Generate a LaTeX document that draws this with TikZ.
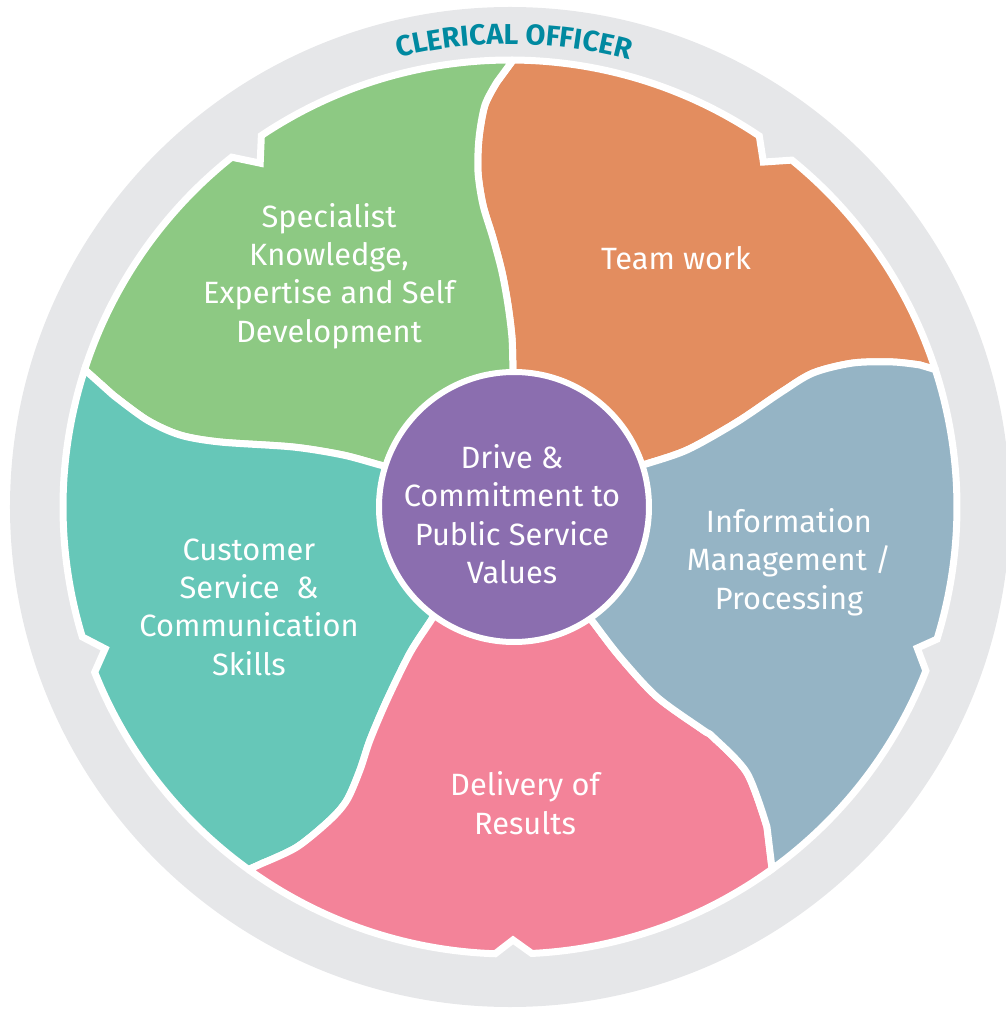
\documentclass[tikz,border=0pt]{standalone}
\usepackage{fontspec}
\setmainfont{Fira Sans}
\usetikzlibrary{decorations.text}

\definecolor{ringgrey}{RGB}{230,231,233}
\definecolor{titleteal}{RGB}{0,137,160}
\definecolor{knowgreen}{RGB}{141,201,131}
\definecolor{teamorange}{RGB}{227,141,95}
\definecolor{infoblue}{RGB}{149,180,197}
\definecolor{resultpink}{RGB}{243,131,153}
\definecolor{custteal}{RGB}{102,199,184}
\definecolor{drivepurple}{RGB}{139,110,175}

\begin{document}
\begin{tikzpicture}[x = 0.5pt, y = 0.5pt,
    piece/.style = {draw = white, line width = 3.5pt, miter limit = 2},
    piecetext/.style = {text = white, align = center, font = \fontsize{15.4}{19.2}\selectfont}]
  \useasboundingbox (-510, -505) rectangle (496, 507);
  % grey ring and its title
  \fill [ringgrey] (0, 0) circle [radius = 500];
  \path [decorate, decoration = {text along path, text align = center,
      text = {|\fontsize{14.4}{14.4}\selectfont\bfseries\color{titleteal}|CLERICAL OFFICER}}]
    (129.5:463) arc [start angle = 129.5, end angle = 49.5, radius = 463];
  % team work
  \path [piece, fill = teamorange] (4, 0)
    -- plot [smooth] coordinates {(113, 35) (133, 42) (177, 57) (227, 85) (270, 114) (303, 134) (343, 144) (383, 145) (410, 142)}
    -- (17.9:447) arc [start angle = 17.9, end angle = 50.9, radius = 447]
    -- (53.7:428) -- (56.1:447) arc [start angle = 56.1, end angle = 89.6, radius = 447]
    -- plot [smooth] coordinates {(-13, 425) (-25, 402) (-31, 369) (-32, 335) (-27, 302) (-17, 269) (-8, 235) (-2, 202) (2, 169) (3, 135) (4, 110)}
    -- cycle;
  % specialist knowledge
  \path [piece, fill = knowgreen] (4, 0)
    -- plot [smooth] coordinates {(4, 110) (3, 135) (2, 169) (-2, 202) (-8, 235) (-17, 269) (-27, 302) (-32, 335) (-31, 369) (-25, 402) (-13, 425)}
    -- (89.6:447) arc [start angle = 89.6, end angle = 123.8, radius = 447]
    -- (126:425) -- (128.5:447) arc [start angle = 128.5, end angle = 162.1, radius = 447]
    -- plot [smooth] coordinates {(-397, 112) (-363, 87) (-330, 72) (-290, 65) (-217, 60) (-167, 52) (-130, 42) (-110, 37)}
    -- cycle;
  % customer service
  \path [piece, fill = custteal] (4, 0)
    -- plot [smooth] coordinates {(-110, 37) (-130, 42) (-167, 52) (-217, 60) (-290, 65) (-330, 72) (-363, 87) (-397, 112)}
    -- (162.1:447) arc [start angle = 162.1, end angle = 196.9, radius = 447]
    -- (199.3:429) -- (201.7:447) arc [start angle = 201.7, end angle = 234.2, radius = 447]
    -- plot [smooth] coordinates {(-247, -356) (-213, -340) (-180, -313) (-163, -293) (-150, -263) (-140, -233) (-123, -193) (-100, -146) (-80, -115) (-70, -99)}
    -- cycle;
  % delivery of results
  \path [piece, fill = resultpink] (4, 0)
    -- plot [smooth] coordinates {(-70, -99) (-80, -115) (-100, -146) (-123, -193) (-140, -233) (-150, -263) (-163, -293) (-180, -313) (-213, -340) (-247, -356)}
    -- (234.2:447) arc [start angle = 234.2, end angle = 268.1, radius = 447]
    -- (270.4:433) -- (272.8:447) arc [start angle = 272.8, end angle = 305.9, radius = 447]
    -- plot [smooth] coordinates {(257, -320) (237, -266) (203, -230) (193, -223) (147, -190) (110, -150) (83, -115) (71, -99)}
    -- cycle;
  % information management
  \path [piece, fill = infoblue] (4, 0)
    -- plot [smooth] coordinates {(71, -99) (83, -115) (110, -150) (147, -190) (193, -223) (203, -230) (237, -266) (257, -320)}
    -- (305.9:447) arc [start angle = 305.9, end angle = 338.5, radius = 447]
    -- (340.9:431) -- (342.8:447) arc [start angle = 342.8, end angle = 377.9, radius = 447]
    -- plot [smooth] coordinates {(410, 142) (383, 145) (343, 144) (303, 134) (270, 114) (227, 85) (177, 57) (133, 42) (113, 35)}
    -- cycle;
  % centre
  \draw [white, line width = 3pt, fill = drivepurple] (4, 0) circle [radius = 135];
  \node [piecetext] (drive) at (2, -7) {Drive \&\\Commitment to\\Public Service\\Values};
  \node [piecetext] (team) at (166, 249) {Team work};
  \node [piecetext] (specialist) at (-181, 231) {Specialist\\Knowledge,\\Expertise and Self\\Development};
  \node [piecetext] (customer) at (-261, -100) {Customer\\Service\ \ \&\\Communication\\Skills};
  \node [piecetext] (delivery) at (15, -296) {Delivery of\\Results};
  \node [piecetext] (information) at (279, -55) {Information\\Management /\\Processing};
\end{tikzpicture}
\end{document}
